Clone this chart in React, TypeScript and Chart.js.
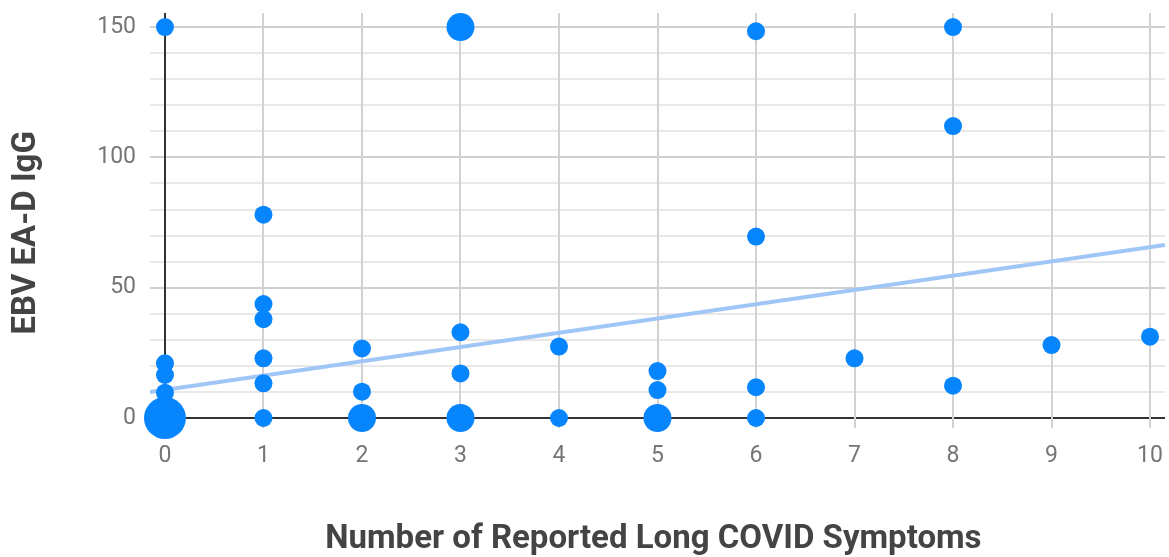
import { useEffect, useRef } from "react";
import { Chart, registerables } from "chart.js";

Chart.register(...registerables);

// Number of reported Long COVID symptoms (x) vs EBV EA-D IgG (y)
const symptomCounts = [0, 0, 0, 0, 0, 1, 1, 1, 1, 1, 1, 2, 2, 2, 3, 3, 3, 3, 4, 4, 5, 5, 5, 6, 6, 6, 6, 7, 8, 8, 8, 9, 10];
const iggValues = [150, 21, 16.5, 9.7, 0, 78, 43.7, 37.9, 22.9, 13.3, 0, 26.7, 10.1, 0, 150, 32.9, 17.1, 0, 27.4, 0, 18, 10.7, 0, 148.4, 69.6, 11.8, 0, 22.9, 150, 112, 12.4, 28, 31.2];
// how many participants share each point (drawn as larger dots)
const participantCounts = [1, 1, 1, 1, 5, 1, 1, 1, 1, 1, 1, 1, 1, 2, 2, 1, 1, 2, 1, 1, 1, 1, 2, 1, 1, 1, 1, 1, 1, 1, 1, 1, 1];

// fitted trend line end points
const trendX = [-0.152, 10.152];
const trendY = [10.0, 66.4];

const xTickValues = [0, 1, 2, 3, 4, 5, 6, 7, 8, 9, 10];
const yTickValues = [0, 10, 20, 30, 40, 50, 60, 70, 80, 90, 100, 110, 120, 130, 140, 150];
const yLabelValues = [0, 50, 100, 150];

const radiusFor = (n: number) => (n >= 3 ? 21 : n === 2 ? 14 : 9);

export default function App() {
  const canvasRef = useRef<HTMLCanvasElement | null>(null);

  useEffect(() => {
    const canvas = canvasRef.current;
    if (!canvas) return;
    const points = symptomCounts.map((x, i) => ({ x, y: iggValues[i] }));
    const trend = trendX.map((x, i) => ({ x, y: trendY[i] }));

    const chart = new Chart(canvas, {
      type: "scatter",
      data: {
        datasets: [
          {
            type: "scatter",
            data: points,
            backgroundColor: "#0785fd",
            borderWidth: 0,
            pointRadius: participantCounts.map(radiusFor),
            pointHoverRadius: participantCounts.map(radiusFor),
            clip: false,
            order: 0,
          } as any,
          {
            type: "line",
            data: trend,
            borderColor: "#a0c6f6",
            borderWidth: 4,
            pointRadius: 0,
            fill: false,
            order: 1,
          } as any,
        ],
      },
      options: {
        animation: false,
        responsive: true,
        maintainAspectRatio: false,
        layout: { autoPadding: false, padding: { top: 13, right: 4, left: 0, bottom: 0 } },
        plugins: { legend: { display: false }, tooltip: { enabled: false } },
        scales: {
          x: {
            type: "linear",
            min: -0.152,
            max: 10.152,
            afterBuildTicks: (s: any) => {
              s.ticks = xTickValues.map((v) => ({ value: v }));
            },
            afterFit: (s: any) => {
              s.height = 129;
              s.paddingLeft = 0;
              s.paddingRight = 0;
            },
            grid: {
              color: (ctx: any) => (ctx.tick && ctx.tick.value === 0 ? "#333333" : "#d2d2d2"),
              lineWidth: 2,
              drawTicks: false,
              z: -1,
            },
            border: { display: false },
            ticks: {
              padding: 14,
              autoSkip: false,
              maxRotation: 0,
              color: "#757575",
              font: { family: "Roboto", size: 23 },
            },
            title: {
              display: true,
              text: "Number of Reported Long COVID Symptoms ",
              color: "#444444",
              font: { family: "Roboto", size: 33, weight: "bold", lineHeight: 1 },
              padding: { top: 0, bottom: 1 },
            },
          },
          y: {
            type: "linear",
            min: -3.84,
            max: 155.4,
            afterBuildTicks: (s: any) => {
              s.ticks = yTickValues.map((v) => ({ value: v }));
            },
            afterFit: (s: any) => {
              s.width = 150;
              s.paddingTop = 0;
              s.paddingBottom = 0;
            },
            grid: {
              color: (ctx: any) => {
                const v = ctx.tick ? ctx.tick.value : 1;
                if (v === 0) return "#333333";
                return yLabelValues.includes(v) ? "#d0d0d0" : "#e8e8e8";
              },
              lineWidth: 2,
              drawTicks: false,
              z: -2,
            },
            border: { display: false },
            ticks: {
              padding: 14,
              autoSkip: false,
              color: "#757575",
              font: { family: "Roboto", size: 23 },
              callback: (v: any) => (yLabelValues.includes(Number(v)) ? String(v) : ""),
            },
            title: {
              display: true,
              text: "EBV EA-D IgG   ",
              color: "#444444",
              font: { family: "Roboto", size: 33, weight: "bold", lineHeight: 1 },
              padding: { top: 10, bottom: 0 },
            },
          },
        },
      },
    });
    return () => chart.destroy();
  }, []);

  return (
    <div style={{ position: "absolute", left: 0, top: 0, width: 1169, height: 557, background: "#fff" }}>
      <canvas ref={canvasRef} />
    </div>
  );
}
